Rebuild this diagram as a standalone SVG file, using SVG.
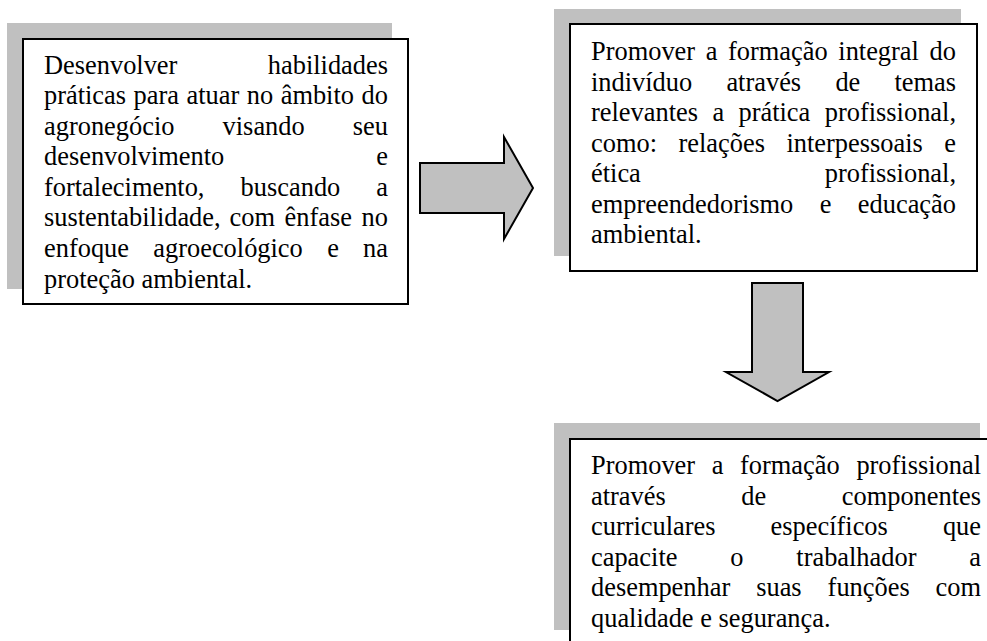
<svg xmlns="http://www.w3.org/2000/svg" width="987" height="641" viewBox="0 0 987 641">
<style>
.shadow{fill:#c0c0c0;stroke:none}
.box{fill:#fff;stroke:#000;stroke-width:2}
.arrow{fill:#c0c0c0;stroke:#000;stroke-width:2;stroke-linejoin:miter}
text{font-family:"Liberation Serif","Times New Roman",serif;font-size:26.4px;fill:#000}
.e{text-anchor:end}
</style>
<rect width="987" height="641" fill="#fff"/>
<g id="node1">
<rect class="shadow" x="7" y="23" width="385" height="266"/>
<rect class="box" x="23" y="39" width="385" height="265"/>
<text y="73.5"><tspan x="44">Desenvolver</tspan></text>
<text class="e" x="388" y="73.5">habilidades</text>
<text y="104"><tspan x="44">práticas</tspan><tspan x="133.6">para</tspan><tspan x="186.5">atuar</tspan><tspan x="246.8">no</tspan><tspan x="280.7">âmbito</tspan></text>
<text class="e" x="388" y="104">do</text>
<text y="134.6"><tspan x="44">agronegócio</tspan><tspan x="222.6">visando</tspan></text>
<text class="e" x="388" y="134.6">seu</text>
<text y="165.2"><tspan x="44">desenvolvimento</tspan></text>
<text class="e" x="388" y="165.2">e</text>
<text y="195.8"><tspan x="44">fortalecimento,</tspan><tspan x="240.6">buscando</tspan></text>
<text class="e" x="388" y="195.8">a</text>
<text y="226.3"><tspan x="44">sustentabilidade,</tspan><tspan x="229.6">com</tspan><tspan x="284.6">ênfase</tspan></text>
<text class="e" x="388" y="226.3">no</text>
<text y="256.9"><tspan x="44">enfoque</tspan><tspan x="153.3">agroecológico</tspan><tspan x="327.2">e</tspan></text>
<text class="e" x="388" y="256.9">na</text>
<text x="44" y="287.5">proteção ambiental.</text>
</g>
<g id="node2">
<rect class="shadow" x="554" y="9" width="407" height="247"/>
<rect class="box" x="570" y="24" width="407" height="247"/>
<text y="60"><tspan x="591">Promover</tspan><tspan x="705.7">a</tspan><tspan x="728">formação</tspan><tspan x="838.3">integral</tspan></text>
<text class="e" x="956" y="60">do</text>
<text y="90.55"><tspan x="591">indivíduo</tspan><tspan x="726.4">através</tspan><tspan x="835.4">de</tspan></text>
<text class="e" x="956" y="90.55">temas</text>
<text y="121.1"><tspan x="591">relevantes</tspan><tspan x="712.4">a</tspan><tspan x="738.5">prática</tspan></text>
<text class="e" x="956" y="121.1">profissional,</text>
<text y="151.65"><tspan x="591">como:</tspan><tspan x="678.5">relações</tspan><tspan x="786.5">interpessoais</tspan></text>
<text class="e" x="956" y="151.65">e</text>
<text y="182.2"><tspan x="591">ética</tspan></text>
<text class="e" x="956" y="182.2">profissional,</text>
<text y="212.75"><tspan x="591">empreendedorismo</tspan><tspan x="819.7">e</tspan></text>
<text class="e" x="956" y="212.75">educação</text>
<text x="591" y="243.3">ambiental.</text>
</g>
<g id="node3">
<rect class="shadow" x="554" y="423" width="426" height="207"/>
<rect class="box" x="570" y="439" width="432" height="220"/>
<text y="474"><tspan x="591">Promover</tspan><tspan x="711.7">a</tspan><tspan x="740">formação</tspan></text>
<text class="e" x="981" y="474">profissional</text>
<text y="504.6"><tspan x="591">através</tspan><tspan x="741.3">de</tspan></text>
<text class="e" x="981" y="504.6">componentes</text>
<text y="535.2"><tspan x="591">curriculares</tspan><tspan x="770.6">específicos</tspan></text>
<text class="e" x="981" y="535.2">que</text>
<text y="565.8"><tspan x="591">capacite</tspan><tspan x="730.3">o</tspan><tspan x="796.3">trabalhador</tspan></text>
<text class="e" x="981" y="565.8">a</text>
<text y="596.4"><tspan x="591">desempenhar</tspan><tspan x="756.2">suas</tspan><tspan x="827.6">funções</tspan></text>
<text class="e" x="981" y="596.4">com</text>
<text x="591" y="627">qualidade e segurança.</text>
</g>
<g id="connectors">
<polygon class="arrow" points="420,163 504,163 504,137 533,188 504,239 504,213 420,213"/>
<polygon class="arrow" points="752,283 803,283 803,372 829,372 777.5,401 726,372 752,372"/>
</g>
</svg>
